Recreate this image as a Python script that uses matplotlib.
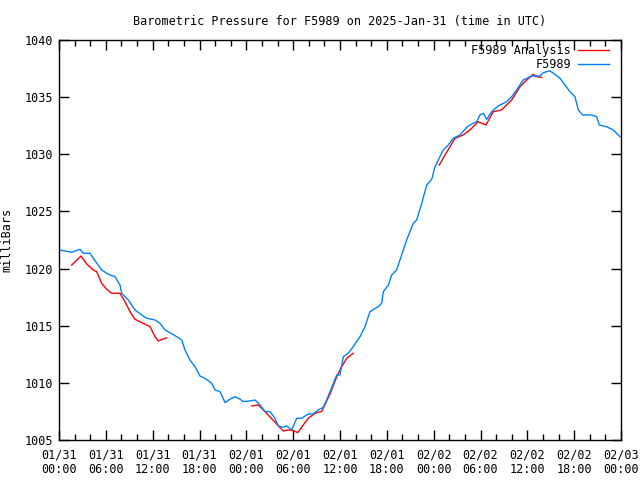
from datetime import datetime, timedelta
import numpy as np
import matplotlib
matplotlib.use('Agg')
import matplotlib.pyplot as plt
import matplotlib.dates as mdates

start = datetime(2025, 1, 31)

# hours since 01/31 00:00 UTC, pressure in mb
obs_hours = [0.0, 1.63, 2.69, 3.11, 3.97, 4.61, 5.47, 6.32, 7.17, 7.81, 8.03, 8.88,
             9.74, 10.59, 11.23, 12.30, 12.94, 13.58, 14.22, 15.08, 15.72, 16.14,
             16.78, 17.42, 18.06, 18.70, 19.56, 19.98, 20.63, 21.27, 21.91, 22.55,
             23.19, 23.61, 24.47, 25.11, 25.75, 26.39, 27.03, 27.67, 28.09, 28.73,
             29.17, 29.81, 30.45, 31.09, 31.94, 32.58, 33.22, 33.86, 34.29, 34.72,
             35.58, 36.00, 36.42, 37.06, 37.70, 38.56, 39.20, 39.84, 40.90, 41.34,
             41.55, 42.19, 42.62, 43.26, 43.68, 44.54, 45.39, 45.82, 46.47, 47.11,
             47.75, 48.17, 48.59, 49.23, 49.87, 50.51, 51.37, 52.23, 52.87, 53.51,
             53.93, 54.36, 54.79, 55.43, 56.28, 57.35, 57.99, 58.63, 59.48, 60.56,
             61.62, 62.04, 62.90, 63.33, 64.18, 64.82, 65.46, 66.10, 66.53, 67.09,
             67.60, 68.24, 68.88, 69.22, 70.16, 71.01, 71.87]
obs_mb = [1021.63, 1021.43, 1021.69, 1021.34, 1021.34, 1020.69, 1019.88, 1019.50,
          1019.29, 1018.56, 1017.84, 1017.25, 1016.38, 1015.94, 1015.65, 1015.50,
          1015.21, 1014.63, 1014.39, 1014.04, 1013.75, 1012.88, 1012.00, 1011.42,
          1010.60, 1010.40, 1009.96, 1009.38, 1009.23, 1008.27, 1008.57, 1008.79,
          1008.57, 1008.36, 1008.42, 1008.50, 1008.07, 1007.48, 1007.48, 1006.90,
          1006.23, 1006.11, 1006.23, 1005.88, 1006.90, 1006.90, 1007.28, 1007.28,
          1007.63, 1007.87, 1008.50, 1009.23, 1010.69, 1010.69, 1012.29, 1012.59,
          1013.17, 1014.04, 1014.92, 1016.23, 1016.67, 1016.96, 1017.98, 1018.56,
          1019.44, 1019.88, 1020.75, 1022.50, 1023.96, 1024.25, 1025.71, 1027.31,
          1027.81, 1028.92, 1029.50, 1030.38, 1030.81, 1031.40, 1031.69, 1032.36,
          1032.65, 1032.85, 1033.44, 1033.59, 1033.06, 1033.73, 1034.23, 1034.60,
          1035.04, 1035.63, 1036.50, 1036.85, 1036.85, 1037.14, 1037.31, 1037.09,
          1036.65, 1036.06, 1035.48, 1035.04, 1033.88, 1033.44, 1033.44, 1033.44,
          1033.29, 1032.56, 1032.41, 1032.13, 1031.54]

# analysis series, NaN marks gaps
ana_hours = [1.63, 2.82, 3.55, 4.39, 4.83, 5.47, 6.11, 6.75, 7.81, 8.46, 9.10, 9.74,
             10.59, 11.66, 12.30, 12.72, 13.36, 13.80, 19.0,
             24.69, 25.53, 26.39, 27.89, 28.73, 29.37, 30.02, 30.58, 31.30, 31.94,
             32.80, 33.65, 34.72, 35.58, 36.22, 36.86, 37.70, 43.0,
             48.72, 49.45, 50.09, 50.73, 51.79, 52.65, 53.71, 54.70, 55.64, 56.71,
             57.99, 59.06, 59.92, 60.76, 61.20, 61.84]
ana_mb = [1020.31, 1021.10, 1020.40, 1019.88, 1019.73, 1018.71, 1018.19, 1017.84,
          1017.84, 1017.10, 1016.23, 1015.56, 1015.27, 1014.92, 1014.04, 1013.67,
          1013.84, 1013.93, np.nan,
          1007.98, 1008.07, 1007.48, 1006.40, 1005.79, 1005.88, 1005.82, 1005.64,
          1006.32, 1006.90, 1007.34, 1007.50, 1009.03, 1010.54, 1011.42, 1012.15,
          1012.59, np.nan,
          1029.06, 1029.94, 1030.66, 1031.40, 1031.69, 1032.13, 1032.85, 1032.56,
          1033.73, 1033.88, 1034.75, 1035.91, 1036.50, 1037.00, 1036.79, 1036.74]

obs_t = [start + timedelta(hours=h) for h in obs_hours]
ana_t = [start + timedelta(hours=h) for h in ana_hours]

plt.rcParams['font.family'] = 'DejaVu Sans Mono'
plt.rcParams['font.size'] = 8

fig = plt.figure(figsize=(6.4, 4.8), dpi=100)
ax = fig.add_axes([59 / 640, 40 / 480, 562 / 640, 400 / 480])

ax.plot(ana_t, ana_mb, color='#ff0000', lw=1, label='F5989 Analysis')
ax.plot(obs_t, obs_mb, color='#0080ff', lw=1, label='F5989')

ax.set_xlim(start, start + timedelta(hours=72))
ax.set_ylim(1005, 1040)
ax.set_yticks(range(1005, 1041, 5))
ax.xaxis.set_major_locator(mdates.HourLocator(byhour=[0, 6, 12, 18]))
ax.xaxis.set_minor_locator(mdates.HourLocator(interval=2))
ax.xaxis.set_major_formatter(mdates.DateFormatter('%m/%d\n%H:%M'))

ax.tick_params(which='both', direction='in', top=True, right=True, width=1)
ax.tick_params(which='major', length=7, pad=6)
ax.tick_params(which='minor', length=4)
ax.tick_params(axis='x', labelsize=8.5)
ax.tick_params(axis='y', labelsize=8.5, pad=4)
for s in ax.spines.values():
    s.set_linewidth(1)

ax.set_ylabel('milliBars', fontsize=8.5, labelpad=8)
ax.set_title('Barometric Pressure for F5989 on 2025-Jan-31 (time in UTC)',
             fontsize=8.5, pad=11)
ax.legend(loc='upper right', bbox_to_anchor=(1 - 11 / 562, 1 - 3 / 400), frameon=False,
          markerfirst=False, fontsize=8.5, handlelength=2.6, handletextpad=0.6,
          borderaxespad=0.0, borderpad=0.1, labelspacing=0.1)

fig.savefig('out.png', dpi=100)
